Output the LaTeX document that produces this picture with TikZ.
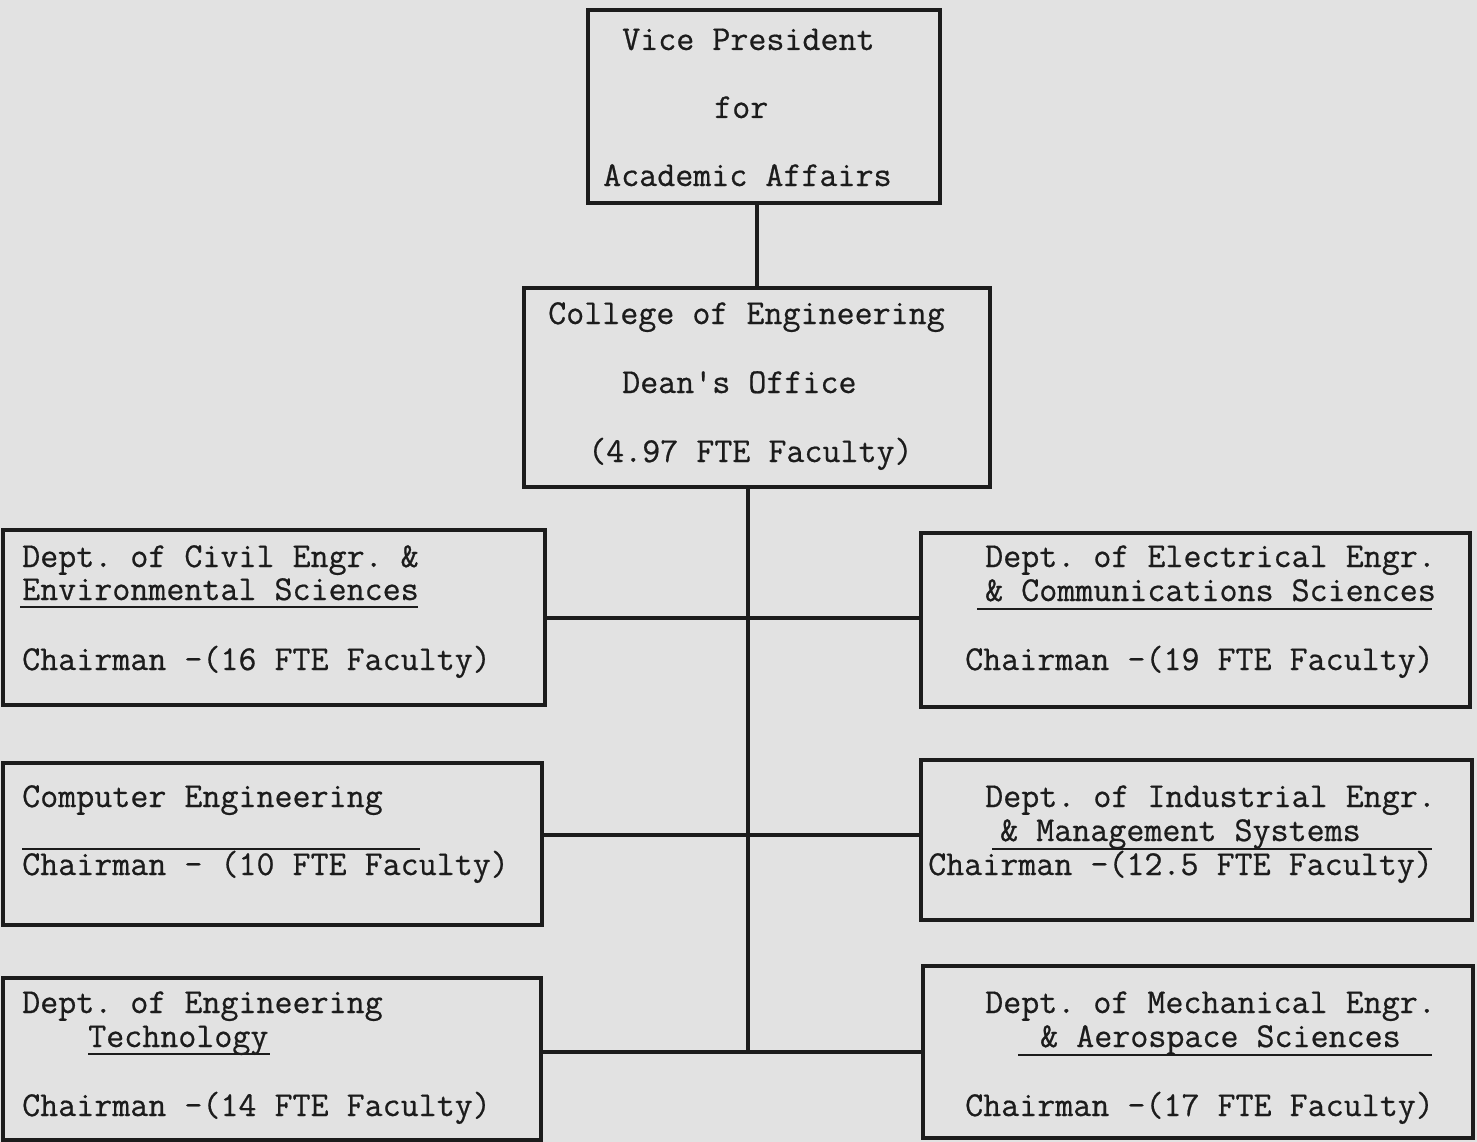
\documentclass[tikz,border=0pt]{standalone}
\usepackage{fontspec}
\newfontfamily\tw{Latin Modern Mono}[FakeBold=0.6]
\definecolor{paper}{RGB}{226,226,226}
\definecolor{ink}{RGB}{28,28,28}
\frenchspacing
\begin{document}
\begin{tikzpicture}[x=1pt,y=-1pt,
  box/.style={draw=ink, line width=3.2pt, inner sep=0pt},
  conn/.style={draw=ink, line width=3.2pt},
  uline/.style={draw=ink, line width=2.2pt},
  txt/.style={anchor=base west, inner sep=0pt, text=ink,
    font=\fontsize{35}{40}\selectfont\tw}]
\fill[paper] (0,0) rectangle (1477,1142);
\useasboundingbox (0,0) rectangle (1477,1142);

% boxes
\node[box, minimum width=352pt, minimum height=193pt] (vp) at (764,106.5) {};
\node[box, minimum width=466pt, minimum height=199pt] (dean) at (757,387.5) {};
\node[box, minimum width=542pt, minimum height=175pt] (civil) at (274,617.5) {};
\node[box, minimum width=549pt, minimum height=174pt] (elec) at (1195.5,620) {};
\node[box, minimum width=539pt, minimum height=162pt] (comp) at (272.5,844) {};
\node[box, minimum width=551pt, minimum height=160pt] (indus) at (1196.5,840) {};
\node[box, minimum width=538pt, minimum height=162pt] (tech) at (272,1059) {};
\node[box, minimum width=550pt, minimum height=172pt] (mech) at (1198,1052) {};

% texts
\node[txt] (vp1) at (622,50) {Vice President};
\node[txt] (vp2) at (714,118) {for};
\node[txt] (vp3) at (603,186) {Academic Affairs};

\node[txt] (d1) at (548,324) {College of Engineering};
\node[txt] (d2) at (622,393) {Dean's Office};
\node[txt] (d3) at (588,462) {(4.97 FTE Faculty)};

\node[txt] (c1) at (22,567) {Dept. of Civil Engr. \&};
\node[txt] (c2) at (22,600) {Environmental Sciences};
\node[txt] (c3) at (22,670) {Chairman -(16 FTE Faculty)};

\node[txt] (e1) at (985,567) {Dept. of Electrical Engr.};
\node[txt] (e2) at (985,601) {\& Communications Sciences};
\node[txt] (e3) at (965,670) {Chairman -(19 FTE Faculty)};

\node[txt] (p1) at (22,807) {Computer Engineering};
\node[txt] (p2) at (22,875) {Chairman - (10 FTE Faculty)};

\node[txt] (i1) at (985,807) {Dept. of Industrial Engr.};
\node[txt] (i2) at (1000,841) {\& Management Systems};
\node[txt] (i3) at (928,875) {Chairman -(12.5 FTE Faculty)};

\node[txt] (t1) at (22,1013) {Dept. of Engineering};
\node[txt] (t2) at (88,1047) {Technology};
\node[txt] (t3) at (22,1116) {Chairman -(14 FTE Faculty)};

\node[txt] (m1) at (985,1013) {Dept. of Mechanical Engr.};
\node[txt] (m2) at (1040,1047) {\& Aerospace Sciences};
\node[txt] (m3) at (965,1116) {Chairman -(17 FTE Faculty)};

% underlines
\draw[uline] (20,607) -- (418,607);
\draw[uline] (977,609) -- (1432,609);
\draw[uline] (22,849) -- (420,849);
\draw[uline] (992,849) -- (1432,849);
\draw[uline] (88,1054) -- (270,1054);
\draw[uline] (1018,1055) -- (1432,1055);

% connectors
\coordinate (j1) at (748,618);
\coordinate (j2) at (748,835);
\coordinate (j3) at (748,1052);
\draw[conn] (vp.south -| dean.north) -- (dean.north);
\draw[conn] (dean.south -| j3) -- (j3);
\draw[conn] (civil.east |- j1) -- (elec.west |- j1);
\draw[conn] (comp.east |- j2) -- (indus.west |- j2);
\draw[conn] (tech.east |- j3) -- (mech.west |- j3);
\end{tikzpicture}
\end{document}
